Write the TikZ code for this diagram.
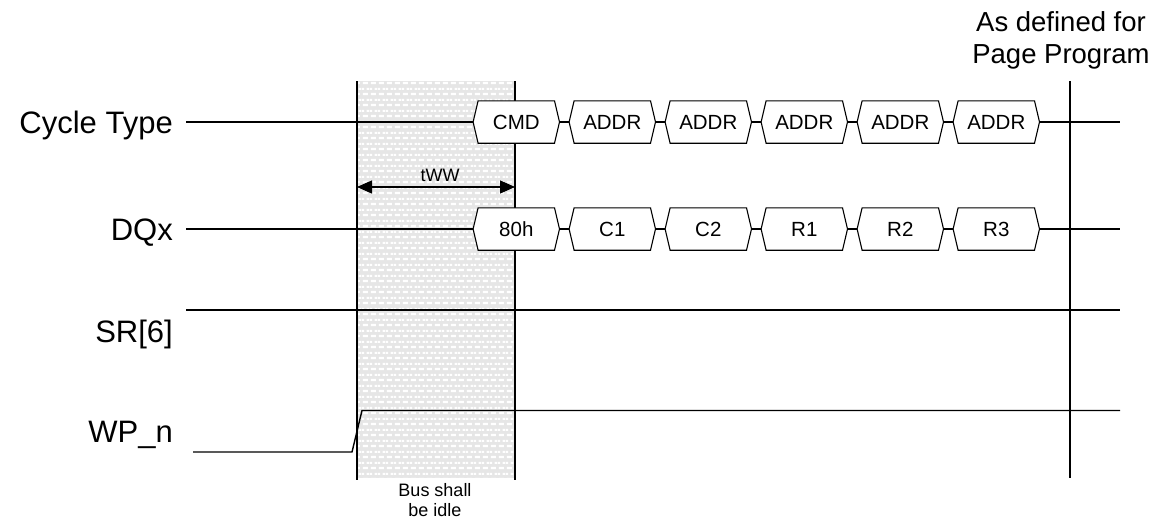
\documentclass[tikz,border=0pt]{standalone}
\usepackage{fontspec}
\setmainfont{Liberation Sans}
\usetikzlibrary{arrows.meta,calc,patterns}
\pgfdeclarepatternformonly{busdash}{\pgfqpoint{0pt}{0pt}}{\pgfqpoint{7.7pt}{10.6pt}}{\pgfqpoint{7.7pt}{10.6pt}}{%
  \pgfpathrectangle{\pgfqpoint{1pt}{1pt}}{\pgfqpoint{5pt}{2.2pt}}%
  \pgfpathrectangle{\pgfqpoint{4.85pt}{6.3pt}}{\pgfqpoint{2.85pt}{2.2pt}}%
  \pgfpathrectangle{\pgfqpoint{0pt}{6.3pt}}{\pgfqpoint{2.15pt}{2.2pt}}%
  \pgfusepath{fill}}
\definecolor{busgray}{HTML}{E6E6E6}
\tikzset{
  sig/.style={line width=1.4pt},
  hexline/.style={line width=1.1pt},
  hexbox/.style={minimum width=76pt, minimum height=42pt, inner sep=0pt,
    font=\fontsize{20.5}{24}\selectfont},
  siglabel/.style={anchor=base east, inner sep=0pt, font=\fontsize{31}{36}\selectfont},
  smalltext/.style={inner sep=0pt, font=\fontsize{18}{20}\selectfont},
  marker/.style={line width=1.6pt},
}
\newcommand\hexdraw[1]{\filldraw[hexline,fill=white] ($(#1.east)+(5,0)$) -- (#1.north east) -- (#1.north west) -- ($(#1.west)+(-5,0)$) -- (#1.south west) -- (#1.south east) -- cycle;}
\begin{document}
\begin{tikzpicture}[x=1pt,y=-1pt]
\useasboundingbox (0,0) rectangle (1156,523);
% shaded idle region
\fill[busgray] (357,81) rectangle (515,478);
\fill[pattern=busdash, pattern color=white] (357,81) rectangle (515,478);

% coordinates
\coordinate (ctS) at (186,122);
\coordinate (ctE) at (1120,122);
\coordinate (dqS) at (186,229);
\coordinate (dqE) at (1120,229);
\coordinate (srS) at (186,310);
\coordinate (srE) at (1120,310);
\coordinate (wpS) at (193,452);
\coordinate (wpA) at (352,452);
\coordinate (wpB) at (362,410.5);
\coordinate (wpE) at (1120,410.5);
\coordinate (busLT) at (357,81);
\coordinate (busLB) at (357,480);
\coordinate (busRT) at (515,81);
\coordinate (busRB) at (515,480);
\coordinate (pgT) at (1070,81);
\coordinate (pgB) at (1070,478);
\coordinate (twwL) at (357,187);
\coordinate (twwR) at (515,187);

% signal labels
\node[siglabel] (lct) at (173,133) {Cycle Type};
\node[siglabel] (ldq) at (173,240) {DQx};
\node[siglabel] (lsr) at (173,342) {SR[6]};
\node[siglabel] (lwp) at (173,442) {WP\_n};

% signal lines
\draw[sig] (srS) -- (srE);
\draw[sig] (wpS) -- (wpA) -- (wpB) -- (wpE);

% vertical markers
\draw[marker] (busLT) -- (busLB);
\draw[marker] (busRT) -- (busRB);
\draw[marker] (pgT) -- (pgB);

% hex boxes
\foreach \lab [count=\i from 0] in {CMD,ADDR,ADDR,ADDR,ADDR,ADDR}{
  \node[hexbox] (ct\i) at (516.3+96*\i,122) {};
}
\foreach \lab [count=\i from 0] in {80h,C1,C2,R1,R2,R3}{
  \node[hexbox] (dq\i) at (516.3+96*\i,229) {};
}
\draw[sig] (ctS) -- ($(ct0.west)+(-5,0)$);
\draw[sig] (dqS) -- ($(dq0.west)+(-5,0)$);
\draw[sig] ($(ct5.east)+(5,0)$) -- (ctE);
\draw[sig] ($(dq5.east)+(5,0)$) -- (dqE);
\foreach \i [evaluate=\i as \j using int(\i+1)] in {0,...,4}{
  \draw[hexline] ($(ct\i.east)+(5,0)$) -- ($(ct\j.west)+(-5,0)$);
  \draw[hexline] ($(dq\i.east)+(5,0)$) -- ($(dq\j.west)+(-5,0)$);
}
\foreach \i/\lab in {0/CMD,1/ADDR,2/ADDR,3/ADDR,4/ADDR,5/ADDR}{
  \hexdraw{ct\i}
  \node[hexbox] at (ct\i) {\lab};
}
\foreach \i/\lab in {0/80h,1/C1,2/C2,3/R1,4/R2,5/R3}{
  \hexdraw{dq\i}
  \node[hexbox] at (dq\i) {\lab};
}

% tWW
\draw[line width=1.1pt, {Triangle[length=15pt,width=13pt]}-{Triangle[length=15pt,width=13pt]}] (twwL) -- (twwR);
\node[smalltext, anchor=base] (tww) at (440,181.5) {tWW};

% texts
\node[anchor=base, inner sep=0pt, align=center, font=\fontsize{27.5}{32}\selectfont] (pgtxt) at (1061,63.5) {As defined for\\Page Program};
\node[smalltext, anchor=base, align=center] (idle) at (435,516.7) {Bus shall\\be idle};
\end{tikzpicture}
\end{document}
